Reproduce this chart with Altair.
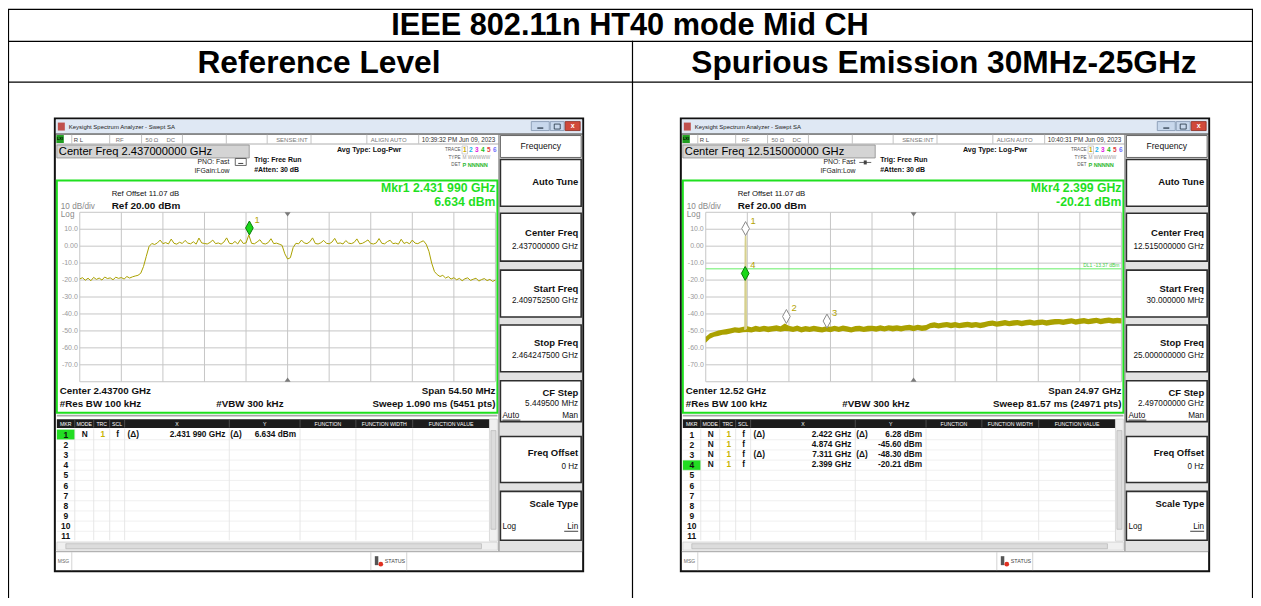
import altair as alt
import pandas as pd

FONT = "Liberation Sans"
M = 8            # page margin
W, H = 1249, 590

# ---------------- content / data ----------------
doc_title = "IEEE 802.11n HT40 mode Mid CH"
col_titles = ["Reference Level", "Spurious Emission 30MHz-25GHz"]

# Reference level sweep (GHz span 2.40975 - 2.46425)
ref_start_ghz = 2.40975
ref_stop_ghz = 2.46425
ref_dbm = [
    -19.3, -18.6, -20.1, -18.9, -20.4, -18.4, -19.6, -18.8, -20.0, -18.2, -19.1, -18.7, -19.8, -18.3, -19.0,
    -18.5, -19.4, -17.9, -18.8, -18.1, -17.6, -17.2, -16.0, -12.0, -6.0, -0.2, 1.6, 1.0, 1.9, 3.6,
    1.5, 2.1, 1.3, 4.2, 1.7, 1.2, 2.3, 1.6, 3.4, 1.8, 1.4, 2.6, 1.2, 4.8, 1.9,
    1.6, 1.3, 2.2, 3.6, 1.5, 1.9, 1.2, 2.4, 4.9, 1.7, 1.4, 2.8, 1.3, 3.9, 1.6,
    1.9, 6.634, 1.7, 1.4, 2.5, 3.8, 1.6, 1.3, 2.1, 4.4, 1.5, 1.8, 1.2, 0.5, -4.5,
    -7.6, -6.8, -0.8, 1.7, 1.4, 3.6, 1.9, 1.5, 2.6, 4.9, 1.6, 1.3, 2.0, 3.4, 1.7,
    1.4, 2.4, 4.6, 1.6, 1.9, 1.3, 3.3, 1.8, 1.5, 2.2, 4.3, 1.4, 1.7, 2.6, 3.7,
    1.6, 1.3, 1.9, 4.5, 1.7, 1.4, 2.7, 3.5, 1.5, 1.8, 1.2, 4.1, 1.6, 2.3, 1.4,
    3.6, 1.8, 1.5, 2.4, 3.2, 1.2, -3.0, -10.0, -15.0, -16.8, -17.9, -17.2, -18.8, -18.0, -19.4,
    -18.6, -19.8, -19.0, -20.4, -19.2, -18.7, -20.2, -19.5, -18.9, -20.6, -19.7, -19.1, -20.3, -19.6, -20.8,
    -20.0,
]
ref_mkr_ids = ["1"]
ref_mkr_ghz = [2.43199]
ref_mkr_dbm = [6.634]
ref_mkr_active = [True]

# Spurious sweep 30 MHz - 25 GHz : noise band (low / high edge)
sp_start_ghz = 0.03
sp_stop_ghz = 25.0
sp_band_hi = [
    -53.5, -51.4, -50.6, -49.8, -49.3,
    -48.9, -48.4, -47.8, -48.2, -47.5,
    -47.2, -47.8, -47.0, -47.6, -46.9, -47.4, -47.1, -46.7, -47.3, -45.6,
    -46.9, -47.5, -46.8, -47.7, -47.1, -47.6, -47.0, -47.4, -47.9, -47.3,
    -47.6, -47.0, -47.5, -46.8, -47.3, -47.8, -47.1, -46.9, -47.5, -47.0,
    -46.9, -47.3, -46.7, -47.2, -46.6, -47.0,
    -46.6, -47.1, -46.7, -46.3, -46.9, -46.4, -46.8, -46.5,
    -45.3, -44.9, -45.5, -45.0, -44.7, -45.2, -44.8, -45.4, -44.9, -44.6, -45.1, -44.7, -45.2, -44.8,
    -44.2, -43.8, -44.4, -44.0, -43.6, -44.1, -43.7, -43.5, -44.0, -43.6, -43.3, -43.8, -43.4, -43.2, -43.7, -43.3, -43.0,
    -42.9, -43.3, -42.8, -42.5, -43.1, -42.7, -42.4, -42.9, -42.6, -42.2, -42.8, -42.4, -42.1, -42.6, -42.3, -42.5,
]
sp_band_lo = [
    -57.0, -54.6, -53.5, -53.0, -52.2,
    -52.1, -51.5, -51.0, -51.3, -50.8,
    -50.6, -50.9, -50.4, -50.7, -50.2, -50.8, -50.3, -50.1, -50.5, -50.0,
    -50.2, -50.6, -50.0, -50.9, -50.3, -50.7, -50.2, -50.6, -51.0, -50.4,
    -50.8, -50.1, -50.7, -50.0, -50.5, -51.0, -50.3, -50.2, -50.6, -50.3,
    -50.1, -50.5, -49.9, -50.4, -49.8, -50.3,
    -49.9, -50.3, -49.8, -49.6, -50.2, -49.5, -50.0, -49.7,
    -48.4, -48.1, -48.6, -48.2, -47.9, -48.4, -48.0, -48.5, -48.1, -47.8, -48.3, -47.9, -48.4, -48.0,
    -47.3, -47.0, -47.5, -47.2, -46.8, -47.3, -46.9, -46.7, -47.2, -46.8, -46.5, -47.0, -46.6, -46.4, -46.9, -46.5, -46.2,
    -46.1, -46.5, -46.0, -45.7, -46.3, -45.9, -45.6, -46.1, -45.8, -45.4, -46.0, -45.6, -45.3, -45.8, -45.5, -45.7,
]
sp_carrier_ghz = [2.385, 2.395, 2.399, 2.410, 2.422, 2.434, 2.444, 2.452, 2.462]
sp_carrier_dbm = [-49.5, -36.0, -20.21, 1.5, 6.28, 2.0, -19.0, -38.0, -49.0]
sp_mkr_ids = ["1", "2", "3", "4"]
sp_mkr_ghz = [2.422, 4.874, 7.311, 2.399]
sp_mkr_dbm = [6.28, -45.60, -48.30, -20.21]
sp_mkr_active = [False, False, False, True]
sp_dl_dbm = -13.37
sp_dl_label = "DL1 -13.37 dBm"

y_tick_dbm = [10, 0, -10, -20, -30, -40, -50, -60, -70]
y_tick_text = ["10.0", "0.00", "-10.0", "-20.0", "-30.0", "-40.0", "-50.0", "-60.0", "-70.0"]

table_header = ["MKR", "MODE", "TRC", "SCL", "X", "Y", "FUNCTION", "FUNCTION WIDTH", "FUNCTION VALUE"]
ref_rows = [["1", "N", "1", "f", "(Δ)", "2.431 990 GHz", "(Δ)", "6.634 dBm"]]
sp_rows = [
    ["1", "N", "1", "f", "(Δ)", "2.422 GHz", "(Δ)", "6.28 dBm"],
    ["2", "N", "1", "f", "", "4.874 GHz", "", "-45.60 dBm"],
    ["3", "N", "1", "f", "(Δ)", "7.311 GHz", "(Δ)", "-48.30 dBm"],
    ["4", "N", "1", "f", "", "2.399 GHz", "", "-20.21 dBm"],
]

screens = [
    dict(dx=0, hdr="Center Freq 2.437000000 GHz", time="10:39:32 PM Jun 09, 2023",
         mkr1="Mkr1 2.431 990 GHz", mkr2="6.634 dBm", center="Center 2.43700 GHz",
         span="Span 54.50 MHz", sweep="Sweep  1.090 ms (5451 pts)",
         cf="2.437000000 GHz", start="2.409752500 GHz", stop="2.464247500 GHz",
         step="5.449500 MHz", rows=ref_rows, active=1, pno="box"),
    dict(dx=628, hdr="Center Freq 12.515000000 GHz", time="10:40:31 PM Jun 09, 2023",
         mkr1="Mkr4 2.399 GHz", mkr2="-20.21 dBm", center="Center 12.52 GHz",
         span="Span 24.97 GHz", sweep="Sweep  81.57 ms (24971 pts)",
         cf="12.515000000 GHz", start="30.000000 MHz", stop="25.000000000 GHz",
         step="2.497000000 GHz", rows=sp_rows, active=4, pno="line"),
]

# ---------------- styles ----------------
TRACE = "#aaa100"
GRID = "#c6c6c6"
GREEN = "#1fe01f"
LBL = "#b3a300"
DIAMOND = "M0,-2L0.55,-1L0,0L-0.55,-1Z"

rects, rules, texts, dots = [], [], [], []


def R(x, y, x2, y2, fill="#ffffff", stroke="transparent", sw=0.0):
    rects.append(dict(x=x - M, y=y - M, x2=x2 - M, y2=y2 - M, fill=fill, stroke=stroke, sw=sw))


def L(x, y, x2, y2, color="#000000", sw=1.0):
    rules.append(dict(x=x - M, y=y - M, x2=x2 - M, y2=y2 - M, color=color, sw=sw))


def T(x, y, t, size=8.0, color="#111111", align="left", bold=False):
    texts.append(dict(x=x - M, y=y - M, t=t, s=size, c=color, a=align,
                      w="bold" if bold else "normal"))


# ---------- document table ----------
L(8, 8.5, 1257, 8.5, "#000000", 1.2)
L(8.5, 8, 8.5, 606, "#000000", 1.2)
L(1256.5, 8, 1256.5, 606, "#000000", 1.2)
L(8, 40.5, 1257, 40.5, "#000000", 1.2)
L(8, 81.5, 1257, 81.5, "#000000", 1.2)
L(634.5, 40, 634.5, 606, "#000000", 1.2)
T(632, 25.5, doc_title, 30.8, "#000000", "center", True)
T(320, 62.5, col_titles[0], 31.8, "#000000", "center", True)
T(947, 62.5, col_titles[1], 31.8, "#000000", "center", True)

trace_cols = ["#c8a800", "#18b0e8", "#e020e0", "#20c020", "#e04040", "#7070ff"]
hdr_cols = [(57, 75), (75, 94), (94, 110), (110, 125), (125, 230), (230, 301),
            (301, 357), (357, 414), (414, 491)]


def window(s):
    dx = s["dx"]

    def X(v):
        return v + dx

    # frame + title bar
    R(X(55), 118, X(585), 572, "#ffffff", "#111111", 2)
    R(X(56), 119, X(584), 133, "#dfe8f4")
    R(X(58), 122, X(65), 130, "#c0504d")
    T(X(69), 126.5, "Keysight Spectrum Analyzer - Swept SA", 6, "#222222")
    R(X(533), 121, X(551), 130, "#c8d8ec", "#7f93ad", 0.8)
    R(X(552), 121, X(566), 130, "#c8d8ec", "#7f93ad", 0.8)
    R(X(567), 121, X(582), 130, "#d0493b", "#8a2a20", 0.8)
    L(X(539), 127.5, X(545), 127.5, "#203040", 1.2)
    R(X(556), 123.5, X(562), 128.5, "transparent", "#203040", 0.8)
    T(X(574.5), 125.5, "x", 7, "#ffffff", "center", True)
    L(X(56), 133.5, X(584), 133.5, "#202020", 1)
    # status row
    R(X(56.5), 134.5, X(64), 142.5, "#1f9e1f")
    T(X(60.2), 138.8, "LXI", 4, "#000000", "center", True)
    for xv in [72, 110, 142, 183, 227, 268, 312, 368, 420]:
        L(X(xv), 134, X(xv), 143, "#b4b4b4", 0.8)
    T(X(74), 139, "R L", 6, "#444444")
    T(X(116), 139, "RF", 6, "#777777")
    T(X(146), 139, "50 Ω", 6, "#777777")
    T(X(167), 139, "DC", 6, "#777777")
    T(X(277), 139, "SENSE:INT", 6, "#777777")
    T(X(372), 139, "ALIGN AUTO", 6, "#777777")
    T(X(423), 139, s["time"], 6.3, "#333333")
    L(X(56), 143.5, X(500), 143.5, "#9a9a9a", 0.8)
    # header
    R(X(57), 144.5, X(250), 157.5, "#d4d4d4", "#8c8c8c", 0.8)
    T(X(59), 151.5, s["hdr"], 11.2, "#000000")
    T(X(198), 162, "PNO: Fast", 6.9, "#222222")
    T(X(195), 171, "IFGain:Low", 6.9, "#222222")
    if s["pno"] == "box":
        R(X(236), 158, X(247), 165, "transparent", "#444444", 0.8)
        L(X(239), 163, X(244), 163, "#444444", 1)
    else:
        L(X(234), 162, X(246), 162, "#444444", 0.8)
        R(X(238.5), 160, X(241.5), 164, "#444444")
    T(X(255), 159.5, "Trig: Free Run", 7, "#111111", "left", True)
    T(X(255), 170, "#Atten: 30 dB", 7, "#111111", "left", True)
    T(X(338), 150, "Avg Type: Log-Pwr", 7.2, "#111111", "left", True)
    T(X(462), 149.5, "TRACE", 4.6, "#555555", "right")
    R(X(463.5), 145.5, X(469), 153.5, "transparent", "#b0b0b0", 0.6)
    for k, c in enumerate(trace_cols):
        T(X(466.3 + k * 6.0), 149.8, str(k + 1), 6.5, c, "center", True)
    T(X(462), 157.5, "TYPE", 4.6, "#555555", "right")
    T(X(464), 157.5, "M WWWWW", 4.8, "#a0a0a0")
    T(X(462), 165, "DET", 4.6, "#555555", "right")
    T(X(464), 165, "P NNNNN", 5.6, "#30b830", "left", True)

    # right soft-key panel
    R(X(500), 134, X(584), 552, "#e2e2e2")
    L(X(500.5), 134, X(500.5), 552, "#808080", 1)
    R(X(502), 135, X(583), 157, "#ffffff", "#666666", 1)
    T(X(542.5), 146, "Frequency", 8.6, "#111111", "center")
    boxes = [(159, 206), (213, 261), (270, 317), (325, 372), (381, 422), (437, 483), (492, 541)]
    for (a, b) in boxes:
        R(X(502), a, X(583), b, "#ffffff", "#2e2e2e", 1.6)
    T(X(580), 182, "Auto Tune", 9.5, "#111111", "right", True)
    T(X(580), 233, "Center Freq", 9.5, "#111111", "right", True)
    T(X(580), 246.5, s["cf"], 8.2, "#111111", "right")
    T(X(580), 288.5, "Start Freq", 9.5, "#111111", "right", True)
    T(X(580), 301.5, s["start"], 8.2, "#111111", "right")
    T(X(580), 343.5, "Stop Freq", 9.5, "#111111", "right", True)
    T(X(580), 356.5, s["stop"], 8.2, "#111111", "right")
    T(X(580), 393.5, "CF Step", 9.5, "#111111", "right", True)
    T(X(580), 404.5, s["step"], 8.2, "#111111", "right")
    T(X(504), 416, "Auto", 8.2, "#111111")
    L(X(504), 420.5, X(522), 420.5, "#111111", 0.8)
    T(X(580), 416, "Man", 8.2, "#111111", "right")
    T(X(580), 453.5, "Freq Offset", 9.5, "#111111", "right", True)
    T(X(580), 467.5, "0 Hz", 8.2, "#111111", "right")
    T(X(580), 504.5, "Scale Type", 9.5, "#111111", "right", True)
    T(X(504), 527.5, "Log", 8.2, "#111111")
    T(X(580), 527.5, "Lin", 8.2, "#111111", "right")
    L(X(566), 532, X(580), 532, "#111111", 0.8)

    # plot frame + annotations
    R(X(57), 180, X(499), 413, "transparent", GREEN, 2)
    L(X(57), 416, X(499), 416, "#a8a8a8", 1.6)
    T(X(112), 194, "Ref Offset 11.07 dB", 7.8, "#111111")
    T(X(112), 205.5, "Ref 20.00 dBm", 10, "#111111", "left", True)
    T(X(61), 206.5, "10 dB/div", 8.2, "#8a8a8a")
    T(X(61), 214.5, "Log", 8.2, "#8a8a8a")
    T(X(497), 188, s["mkr1"], 12.3, GREEN, "right", True)
    T(X(497), 201.5, s["mkr2"], 12.3, GREEN, "right", True)
    T(X(60), 391, s["center"], 9.8, "#111111", "left", True)
    T(X(497), 391, s["span"], 9.8, "#111111", "right", True)
    T(X(60), 404, "#Res BW 100 kHz", 9.8, "#111111", "left", True)
    T(X(217), 404, "#VBW 300 kHz", 9.8, "#111111", "left", True)
    T(X(497), 404, s["sweep"], 9.8, "#111111", "right", True)

    # marker table
    R(X(57), 419.5, X(491), 428.5, "#1c1c1c")
    for (a, b), lab in zip(hdr_cols, table_header):
        T(X((a + b) / 2), 424.3, lab, 5.2, "#ffffff", "center")
        if a > 57:
            L(X(a), 420, X(a), 428, "#6a6a6a", 0.6)
            L(X(a), 429, X(a), 541, "#dddddd", 0.7)
    for i in range(11):
        yb = 430 + (i + 1) * 10.2
        L(X(57), yb, X(491), yb, "#e6e6e6", 0.6)
    act = s["active"] - 1
    R(X(57), 430 + act * 10.2, X(75), 430 + (act + 1) * 10.2, "#22dd22")
    for i in range(11):
        T(X(66), 435.2 + i * 10.2, str(i + 1), 8.5, "#111111", "center", True)
    for i, row in enumerate(s["rows"]):
        yy = 435.2 + i * 10.2
        T(X(85), yy, row[1], 8.3, "#111111", "center", True)
        T(X(103), yy, row[2], 8.3, "#c8b400", "center", True)
        T(X(118), yy, row[3], 8.3, "#111111", "center", True)
        T(X(128), yy, row[4], 8.3, "#111111", "left", True)
        T(X(226), yy, row[5], 8.3, "#111111", "right", True)
        T(X(231), yy, row[6], 8.3, "#111111", "left", True)
        T(X(297), yy, row[7], 8.3, "#111111", "right", True)
    # scrollbars
    R(X(491), 419.5, X(499), 542, "#f0f0f0", "#c8c8c8", 0.6)
    R(X(492.5), 431, X(497.5), 530, "#dcdcdc", "#b0b0b0", 0.6)
    R(X(57), 543, X(499), 551, "#f0f0f0", "#c8c8c8", 0.6)
    R(X(66), 544.5, X(483), 549.5, "#dcdcdc", "#b0b0b0", 0.6)
    # message bar
    L(X(56), 552.5, X(584), 552.5, "#a0a0a0", 1)
    T(X(58), 562, "MSG", 5, "#666666")
    L(X(72), 553, X(72), 571, "#c8c8c8", 0.8)
    L(X(372), 553, X(372), 571, "#c8c8c8", 0.8)
    L(X(408), 553, X(408), 571, "#c8c8c8", 0.8)
    R(X(376), 557, X(379.5), 566, "#555555")
    dots.append(dict(x=X(382) - M, y=565 - M, c="#e03020"))
    T(X(386), 562, "STATUS", 5.4, "#444444")


for s in screens:
    window(s)

# ---------------- plot layers ----------------
YS = alt.Scale(domain=[-80, 20], range=[382 - M, 212 - M], nice=False, zero=False)


def xscale(f0, f1, dx):
    return alt.Scale(domain=[f0, f1], range=[80 + dx - M, 497 + dx - M], nice=False, zero=False)


def base_plot(f0, f1, dx):
    xs = xscale(f0, f1, dx)
    gx = pd.DataFrame({"f": [f0 + k * (f1 - f0) / 10 for k in range(11)]})
    gy = pd.DataFrame({"v": [20 - 10 * k for k in range(11)]})
    vgrid = alt.Chart(gx).mark_rule(color=GRID, strokeWidth=1).encode(
        x=alt.X("f:Q", scale=xs, axis=None), y=alt.value(212 - M), y2=alt.value(382 - M))
    hgrid = alt.Chart(gy).mark_rule(color=GRID, strokeWidth=1).encode(
        y=alt.Y("v:Q", scale=YS, axis=None), x=alt.value(80 + dx - M), x2=alt.value(497 + dx - M))
    ticks = alt.Chart(pd.DataFrame({"v": y_tick_dbm, "t": y_tick_text})).mark_text(
        font=FONT, fontSize=7, align="right", baseline="middle", color="#9a9a9a").encode(
        y=alt.Y("v:Q", scale=YS, axis=None), x=alt.value(78 + dx - M), text="t:N")
    c = (f0 + f1) / 2
    tri_top = alt.Chart(pd.DataFrame({"f": [c], "v": [20]})).mark_point(
        shape="M-1,0L1,0L0,1.4Z", size=36, filled=True, color="#7a7a7a", opacity=1).encode(
        x=alt.X("f:Q", scale=xs, axis=None), y=alt.Y("v:Q", scale=YS, axis=None))
    tri_bot = alt.Chart(pd.DataFrame({"f": [c], "v": [-80]})).mark_point(
        shape="M-1,0L1,0L0,-1.4Z", size=36, filled=True, color="#7a7a7a", opacity=1).encode(
        x=alt.X("f:Q", scale=xs, axis=None), y=alt.Y("v:Q", scale=YS, axis=None))
    return xs, [vgrid, hgrid, ticks, tri_top, tri_bot]


def marker_layers(xs, ids, ghz, dbm, active):
    df = pd.DataFrame({
        "f": ghz, "v": dbm, "id": ids,
        "fill": ["#19d819" if a else "#ffffff" for a in active],
        "stroke": ["#0a7a0a" if a else "#8a8a8a" for a in active],
    })
    pts = alt.Chart(df).mark_point(shape=DIAMOND, size=196, filled=True, strokeWidth=1,
                                   opacity=1).encode(
        x=alt.X("f:Q", scale=xs, axis=None), y=alt.Y("v:Q", scale=YS, axis=None),
        fill=alt.Fill("fill:N", scale=None, legend=None),
        stroke=alt.Stroke("stroke:N", scale=None, legend=None))
    labs = alt.Chart(df).mark_text(font=FONT, fontSize=9.5, align="left", baseline="middle",
                                   dx=5, dy=-15, color=LBL).encode(
        x=alt.X("f:Q", scale=xs, axis=None), y=alt.Y("v:Q", scale=YS, axis=None), text="id:N")
    return [pts, labs]


# reference level plot
n_ref = len(ref_dbm)
ref_df = pd.DataFrame({
    "f": [ref_start_ghz + i * (ref_stop_ghz - ref_start_ghz) / (n_ref - 1) for i in range(n_ref)],
    "v": ref_dbm,
})
xs_ref, ref_layers = base_plot(ref_start_ghz, ref_stop_ghz, 0)
ref_layers.append(alt.Chart(ref_df).mark_line(color=TRACE, strokeWidth=1).encode(
    x=alt.X("f:Q", scale=xs_ref, axis=None), y=alt.Y("v:Q", scale=YS, axis=None)))
ref_layers += marker_layers(xs_ref, ref_mkr_ids, ref_mkr_ghz, ref_mkr_dbm, ref_mkr_active)

# spurious plot
dx2 = 628
n_sp = len(sp_band_lo)
sp_df = pd.DataFrame({
    "f": [sp_start_ghz + i * (sp_stop_ghz - sp_start_ghz) / (n_sp - 1) for i in range(n_sp)],
    "lo": sp_band_lo, "hi": sp_band_hi,
})
xs_sp, sp_layers = base_plot(sp_start_ghz, sp_stop_ghz, dx2)
sp_layers.append(alt.Chart(pd.DataFrame({"v": [sp_dl_dbm]})).mark_rule(
    color="#66ee66", strokeWidth=1).encode(
    y=alt.Y("v:Q", scale=YS, axis=None), x=alt.value(80 + dx2 - M), x2=alt.value(497 + dx2 - M)))
sp_layers.append(alt.Chart(pd.DataFrame({"v": [sp_dl_dbm], "t": [sp_dl_label]})).mark_text(
    font=FONT, fontSize=5, align="right", baseline="bottom", dy=-1, color="#44cc44").encode(
    y=alt.Y("v:Q", scale=YS, axis=None), x=alt.value(495 + dx2 - M), text="t:N"))
sp_layers.append(alt.Chart(sp_df).mark_area(color=TRACE, opacity=1, line=False).encode(
    x=alt.X("f:Q", scale=xs_sp, axis=None), y=alt.Y("lo:Q", scale=YS, axis=None), y2="hi:Q"))
sp_layers.append(alt.Chart(pd.DataFrame({"f": sp_carrier_ghz, "v": sp_carrier_dbm})).mark_line(
    color="#d6d08e", strokeWidth=1.6).encode(
    x=alt.X("f:Q", scale=xs_sp, axis=None), y=alt.Y("v:Q", scale=YS, axis=None)))
sp_layers += marker_layers(xs_sp, sp_mkr_ids, sp_mkr_ghz, sp_mkr_dbm, sp_mkr_active)

# ---------------- decoration layers ----------------
rect_chart = alt.Chart(pd.DataFrame(rects)).mark_rect().encode(
    x=alt.X("x:Q", scale=None, axis=None), x2="x2:Q",
    y=alt.Y("y:Q", scale=None, axis=None), y2="y2:Q",
    fill=alt.Fill("fill:N", scale=None, legend=None),
    stroke=alt.Stroke("stroke:N", scale=None, legend=None),
    strokeWidth=alt.StrokeWidth("sw:Q", scale=None, legend=None))

rule_chart = alt.Chart(pd.DataFrame(rules)).mark_rule().encode(
    x=alt.X("x:Q", scale=None, axis=None), x2="x2:Q",
    y=alt.Y("y:Q", scale=None, axis=None), y2="y2:Q",
    color=alt.Color("color:N", scale=None, legend=None),
    strokeWidth=alt.StrokeWidth("sw:Q", scale=None, legend=None))

tdf = pd.DataFrame(texts)
text_charts = []
for a in ["left", "center", "right"]:
    for w in ["normal", "bold"]:
        sub = tdf[(tdf.a == a) & (tdf.w == w)]
        if len(sub) == 0:
            continue
        text_charts.append(alt.Chart(sub).mark_text(
            font=FONT, align=a, baseline="middle", fontWeight=w).encode(
            x=alt.X("x:Q", scale=None, axis=None), y=alt.Y("y:Q", scale=None, axis=None),
            text="t:N", size=alt.Size("s:Q", scale=None, legend=None),
            color=alt.Color("c:N", scale=None, legend=None)))

dot_chart = alt.Chart(pd.DataFrame(dots)).mark_point(shape="circle", size=22, filled=True,
                                                     opacity=1).encode(
    x=alt.X("x:Q", scale=None, axis=None), y=alt.Y("y:Q", scale=None, axis=None),
    color=alt.Color("c:N", scale=None, legend=None))

layers = [rect_chart, rule_chart] + ref_layers + sp_layers + text_charts + [dot_chart]

chart = alt.layer(*layers).resolve_scale(x="independent", y="independent").properties(
    width=W, height=H, autosize=alt.AutoSizeParams(type="none"), padding=0,
    background="#ffffff",
).configure_view(stroke=None)

chart.save("out.html", embed_options={"renderer": "svg", "actions": False})
